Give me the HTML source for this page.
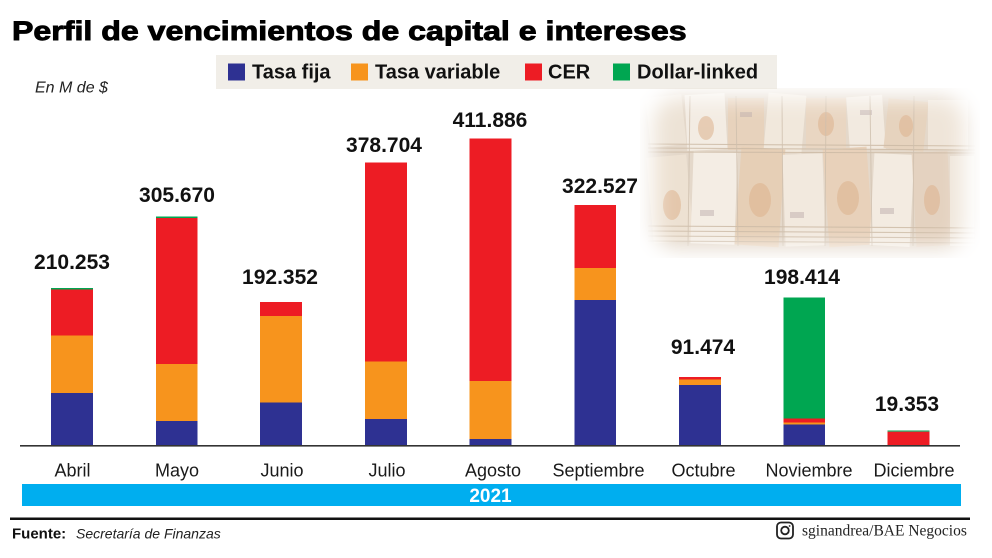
<!DOCTYPE html>
<html><head><meta charset="utf-8"><style>
html,body{margin:0;padding:0;background:#fff;}
svg{display:block;}
text{font-family:"Liberation Sans",Arial,sans-serif;}
</style></head><body>
<svg width="992" height="558" viewBox="0 0 992 558" xmlns="http://www.w3.org/2000/svg">
<defs>
  <filter id="fb" x="-20%" y="-20%" width="140%" height="140%"><feGaussianBlur stdDeviation="10"/></filter>
  <mask id="pm"><rect x="0" y="0" width="992" height="558" fill="#000"/><rect x="654" y="98" width="310" height="150" rx="24" fill="#fff" filter="url(#fb)"/></mask>
</defs>
<rect width="992" height="558" fill="#fff"/>

<!-- Title -->
<text transform="translate(12,40) scale(1.19,1)" font-size="27" font-weight="bold" fill="#000" stroke="#000" stroke-width="0.9">Perfil de vencimientos de capital e intereses</text>

<!-- Legend -->
<rect x="216" y="55" width="561" height="34" fill="#F1EEE8"/>
<rect x="228" y="63.5" width="17" height="17" fill="#2E3192"/>
<text x="252" y="78.5" font-size="20" font-weight="bold" fill="#111">Tasa fija</text>
<rect x="351" y="63.5" width="17" height="17" fill="#F7941D"/>
<text x="375" y="78.5" font-size="20" font-weight="bold" fill="#111">Tasa variable</text>
<rect x="525" y="63.5" width="17" height="17" fill="#ED1C24"/>
<text x="548" y="78.5" font-size="20" font-weight="bold" fill="#111">CER</text>
<rect x="613" y="63.5" width="17" height="17" fill="#00A651"/>
<text x="637" y="78.5" font-size="20" font-weight="bold" fill="#111">Dollar-linked</text>

<text x="35" y="92.5" font-size="16" font-style="italic" fill="#222">En M de $</text>

<!-- Photo of bills (approximation) -->
<g mask="url(#pm)">
  <rect x="640" y="88" width="340" height="170" fill="#E4D8CA"/>
  <g>
    <rect x="648" y="96" width="36" height="50" fill="#EDE3D6" transform="rotate(-6 666 121)"/>
    <rect x="686" y="94" width="40" height="56" fill="#F3ECE3" transform="rotate(-3 706 122)"/>
    <rect x="728" y="98" width="36" height="52" fill="#E7D2BC"/>
    <rect x="766" y="94" width="38" height="58" fill="#F1E8DC" transform="rotate(5 785 123)"/>
    <rect x="806" y="98" width="40" height="50" fill="#E9D6C2"/>
    <rect x="848" y="96" width="36" height="54" fill="#F2EAE0" transform="rotate(-4 866 123)"/>
    <rect x="886" y="100" width="40" height="50" fill="#E6D3BE" transform="rotate(6 906 125)"/>
    <rect x="928" y="100" width="40" height="50" fill="#EFE5D9"/>
    <rect x="650" y="156" width="40" height="86" fill="#EDE1D2" transform="rotate(-5 670 199)"/>
    <rect x="692" y="152" width="44" height="92" fill="#F4EDE4" transform="rotate(2 714 198)"/>
    <rect x="738" y="148" width="44" height="98" fill="#E6CFB6" transform="rotate(4 760 197)"/>
    <rect x="784" y="154" width="40" height="92" fill="#F2E9DE" transform="rotate(-2 804 200)"/>
    <rect x="826" y="148" width="44" height="98" fill="#E8D1BA" transform="rotate(-4 848 197)"/>
    <rect x="872" y="154" width="40" height="92" fill="#F3EBE1" transform="rotate(3 892 200)"/>
    <rect x="914" y="152" width="36" height="94" fill="#E4D2C0" transform="rotate(-3 932 199)"/>
    <rect x="950" y="156" width="24" height="90" fill="#EFE6DA"/>
  </g>
  <g fill="#DDB38E" opacity="0.55">
    <ellipse cx="672" cy="205" rx="9" ry="15"/>
    <ellipse cx="760" cy="200" rx="11" ry="17"/>
    <ellipse cx="848" cy="198" rx="11" ry="17"/>
    <ellipse cx="706" cy="128" rx="8" ry="12"/>
    <ellipse cx="826" cy="124" rx="8" ry="12"/>
    <ellipse cx="932" cy="200" rx="8" ry="15"/>
    <ellipse cx="906" cy="126" rx="7" ry="11"/>
  </g>
  <g fill="#B9A8A8" opacity="0.45">
    <rect x="700" y="210" width="14" height="6"/>
    <rect x="790" y="212" width="14" height="6"/>
    <rect x="880" y="208" width="14" height="6"/>
    <rect x="740" y="112" width="12" height="5"/>
    <rect x="860" y="110" width="12" height="5"/>
  </g>
  <g stroke="#CDBBA6" stroke-width="1.1" opacity="0.85">
    <line x1="648" y1="144" x2="975" y2="146"/>
    <line x1="648" y1="148" x2="975" y2="150"/>
    <line x1="648" y1="152" x2="975" y2="153"/>
    <line x1="648" y1="226" x2="975" y2="228"/>
    <line x1="648" y1="231" x2="975" y2="233"/>
    <line x1="648" y1="236" x2="975" y2="238"/>
    <line x1="648" y1="241" x2="975" y2="243"/>
  </g>
  <g stroke="#CFC0AE" stroke-width="1" opacity="0.8">
    <line x1="690" y1="96" x2="688" y2="246"/>
    <line x1="736" y1="96" x2="738" y2="246"/>
    <line x1="782" y1="96" x2="783" y2="246"/>
    <line x1="826" y1="96" x2="825" y2="246"/>
    <line x1="870" y1="96" x2="872" y2="246"/>
    <line x1="914" y1="96" x2="913" y2="246"/>
  </g>
</g>

<!-- Bars -->
<!-- Abril -->
<rect x="51" y="288" width="42" height="1.5" fill="#00A651"/>
<rect x="51" y="289.5" width="42" height="46" fill="#ED1C24"/>
<rect x="51" y="335.5" width="42" height="57.5" fill="#F7941D"/>
<rect x="51" y="393" width="42" height="52" fill="#2E3192"/>
<!-- Mayo -->
<rect x="156" y="216.5" width="41.5" height="1.5" fill="#00A651"/>
<rect x="156" y="218" width="41.5" height="146" fill="#ED1C24"/>
<rect x="156" y="364" width="41.5" height="57" fill="#F7941D"/>
<rect x="156" y="421" width="41.5" height="24" fill="#2E3192"/>
<!-- Junio -->
<rect x="260" y="302" width="42" height="14" fill="#ED1C24"/>
<rect x="260" y="316" width="42" height="86.5" fill="#F7941D"/>
<rect x="260" y="402.5" width="42" height="42.5" fill="#2E3192"/>
<!-- Julio -->
<rect x="365" y="162.5" width="42" height="199" fill="#ED1C24"/>
<rect x="365" y="361.5" width="42" height="57.5" fill="#F7941D"/>
<rect x="365" y="419" width="42" height="26" fill="#2E3192"/>
<!-- Agosto -->
<rect x="469.5" y="138.5" width="42" height="242.5" fill="#ED1C24"/>
<rect x="469.5" y="381" width="42" height="58" fill="#F7941D"/>
<rect x="469.5" y="439" width="42" height="6" fill="#2E3192"/>
<!-- Septiembre -->
<rect x="574.5" y="205" width="41.5" height="63" fill="#ED1C24"/>
<rect x="574.5" y="268" width="41.5" height="32" fill="#F7941D"/>
<rect x="574.5" y="300" width="41.5" height="145" fill="#2E3192"/>
<!-- Octubre -->
<rect x="679" y="377" width="42" height="2.5" fill="#ED1C24"/>
<rect x="679" y="379.5" width="42" height="5.5" fill="#F7941D"/>
<rect x="679" y="385" width="42" height="60" fill="#2E3192"/>
<!-- Noviembre -->
<rect x="783.5" y="297.5" width="41.5" height="121" fill="#00A651"/>
<rect x="783.5" y="418.5" width="41.5" height="4" fill="#ED1C24"/>
<rect x="783.5" y="422.5" width="41.5" height="2" fill="#F7941D"/>
<rect x="783.5" y="424.5" width="41.5" height="20.5" fill="#2E3192"/>
<!-- Diciembre -->
<rect x="887.5" y="430.5" width="42" height="1.2" fill="#00A651"/>
<rect x="887.5" y="431.7" width="42" height="13.3" fill="#ED1C24"/>

<!-- Axis -->
<rect x="20" y="445" width="940" height="1.6" fill="#333"/>

<!-- Value labels -->
<g font-size="21" font-weight="bold" fill="#111" text-anchor="middle">
  <text x="72" y="269">210.253</text>
  <text x="177" y="202">305.670</text>
  <text x="280" y="284">192.352</text>
  <text x="384" y="152">378.704</text>
  <text x="490" y="127">411.886</text>
  <text x="600" y="193">322.527</text>
  <text x="703" y="354">91.474</text>
  <text x="802" y="284">198.414</text>
  <text x="907" y="411">19.353</text>
</g>

<!-- Month labels -->
<g font-size="18" fill="#1a1a1a" text-anchor="middle">
  <text x="72.5" y="476.5">Abril</text>
  <text x="177" y="476.5">Mayo</text>
  <text x="282" y="476.5">Junio</text>
  <text x="387" y="476.5">Julio</text>
  <text x="493" y="476.5">Agosto</text>
  <text x="598.5" y="476.5">Septiembre</text>
  <text x="703.5" y="476.5">Octubre</text>
  <text x="809" y="476.5">Noviembre</text>
  <text x="914" y="476.5">Diciembre</text>
</g>

<!-- Year band -->
<rect x="22" y="484" width="939" height="22" fill="#00AEEF"/>
<text x="490.5" y="502" font-size="19" font-weight="bold" fill="#fff" text-anchor="middle">2021</text>

<!-- Footer line -->
<rect x="10" y="517.5" width="960" height="2.5" fill="#111"/>
<text x="12" y="538.5" font-size="15" font-weight="bold" fill="#111">Fuente:</text>
<text x="76" y="538.5" font-size="14" font-style="italic" fill="#222">Secretaría de Finanzas</text>

<!-- Instagram icon -->
<rect x="777" y="522.5" width="16" height="16" rx="4" fill="none" stroke="#222" stroke-width="1.8"/>
<circle cx="785" cy="530.5" r="3.8" fill="none" stroke="#222" stroke-width="1.8"/>
<circle cx="789.6" cy="526" r="0.9" fill="#222"/>
<text x="802" y="535.5" font-size="15.5" fill="#222" style="font-family:'Liberation Serif',serif">sginandrea/BAE Negocios</text>
</svg>
</body></html>
